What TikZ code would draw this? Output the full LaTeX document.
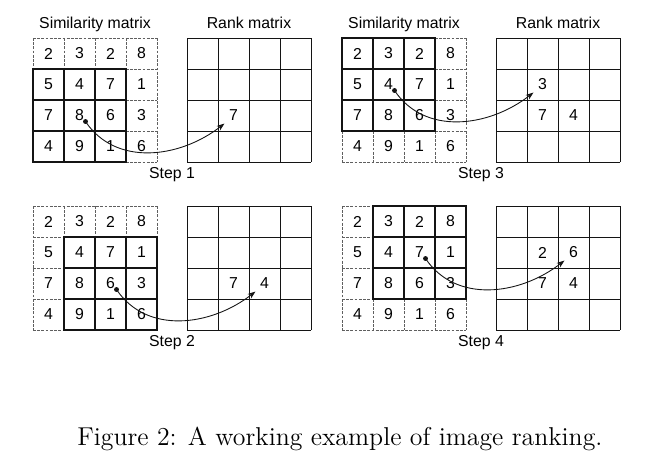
\documentclass[tikz,border=0pt]{standalone}
\usepackage{fontspec}
\setsansfont{Liberation Sans}
\usepackage{tikz}
\usetikzlibrary{arrows.meta}
\definecolor{ink}{RGB}{20,20,20}
\definecolor{gridgray}{RGB}{95,95,95}
\tikzset{
  cell/.style={minimum size=6.2mm, inner sep=0pt,
               font=\sffamily\fontsize{9}{10}\selectfont},
  simgrid/.style={draw=gridgray, line width=0.4pt, dash pattern=on 1.6pt off 0.8pt},
  rankgrid/.style={draw=ink, line width=0.5pt},
  window/.style={draw=ink, line width=1.5pt, line join=miter},
  hdr/.style={font=\sffamily\fontsize{9}{10}\selectfont, anchor=base, inner sep=0pt},
  pick/.style={-{Stealth[length=4.5pt,width=3.2pt]}, line width=0.5pt, draw=ink},
  dotmark/.style={fill=ink},
}
\begin{document}
\begin{tikzpicture}[x=0.02cm, y=-0.02cm]
  \useasboundingbox (0,0) rectangle (655,460);
  % step / matrix origin / window row,col / target row,col
  \foreach \p/\X/\Y/\wr/\wc/\tr/\tc in {1/33/38/2/1/3/2, 2/33/206/2/2/3/3,
                                         3/342/38/1/1/2/2, 4/342/206/1/2/2/3}{
    \pgfmathsetmacro\R{\X+154}
    \foreach \r/\vals in {1/{2,3,2,8}, 2/{5,4,7,1}, 3/{7,8,6,3}, 4/{4,9,1,6}}
      \foreach \v [count=\c] in \vals
        \node[cell] (s\p-\r-\c) at ({\X+31*\c-15.5},{\Y+31*\r-15.5}) {\v};
    \foreach \r in {1,...,4}
      \foreach \c in {1,...,4}
        \node[cell] (k\p-\r-\c) at ({\R+31*\c-15.5},{\Y+31*\r-15.5}) {};
    \foreach \i in {0,...,4}{
      \draw[simgrid] ({\X+31*\i},\Y) -- ++(0,124);
      \draw[simgrid] (\X,{\Y+31*\i}) -- ++(124,0);
      \draw[rankgrid] ({\R+31*\i},\Y) -- ++(0,124);
      \draw[rankgrid] (\R,{\Y+31*\i}) -- ++(124,0);
    }
    \foreach \i in {0,1,2}
      \foreach \j in {0,1,2}
        \draw[window] ({\X+31*(\wc-1+\j)},{\Y+31*(\wr-1+\i)}) rectangle ++(31,31);
    \pgfmathtruncatemacro\cr{\wr+1}
    \pgfmathtruncatemacro\cc{\wc+1}
    \coordinate (d\p) at ([shift={(6,6)}]s\p-\cr-\cc.center);
    \coordinate (t\p) at ([shift={(-9,8)}]k\p-\tr-\tc.center);
    \fill[dotmark] (d\p) circle[radius=1.4pt];
    \draw[pick] (d\p) .. controls +(30,45) and +(-45,35) .. (t\p);
    \node[hdr] (step\p) at ({\X+139},{\Y+140}) {Step \p};
  }
  \node[hdr] (sim1) at (95,28) {Similarity matrix};
  \node[hdr] (rank1) at (249,28) {Rank matrix};
  \node[hdr] (sim3) at (404,28) {Similarity matrix};
  \node[hdr] (rank3) at (558,28) {Rank matrix};
  % entries of the rank matrix
  \node[cell] (r1a) at (k1-3-2) {7};
  \node[cell] (r2a) at (k2-3-2) {7};
  \node[cell] (r2b) at (k2-3-3) {4};
  \node[cell] (r3a) at (k3-2-2) {3};
  \node[cell] (r3b) at (k3-3-2) {7};
  \node[cell] (r3c) at (k3-3-3) {4};
  \node[cell] (r4a) at (k4-2-2) {2};
  \node[cell] (r4b) at (k4-2-3) {6};
  \node[cell] (r4c) at (k4-3-2) {7};
  \node[cell] (r4d) at (k4-3-3) {4};
  \node[anchor=base west, inner sep=0pt, font=\fontsize{14.7}{17}\selectfont]
    (cap) at (77,445) {Figure 2: A working example of image ranking.};
\end{tikzpicture}
\end{document}
